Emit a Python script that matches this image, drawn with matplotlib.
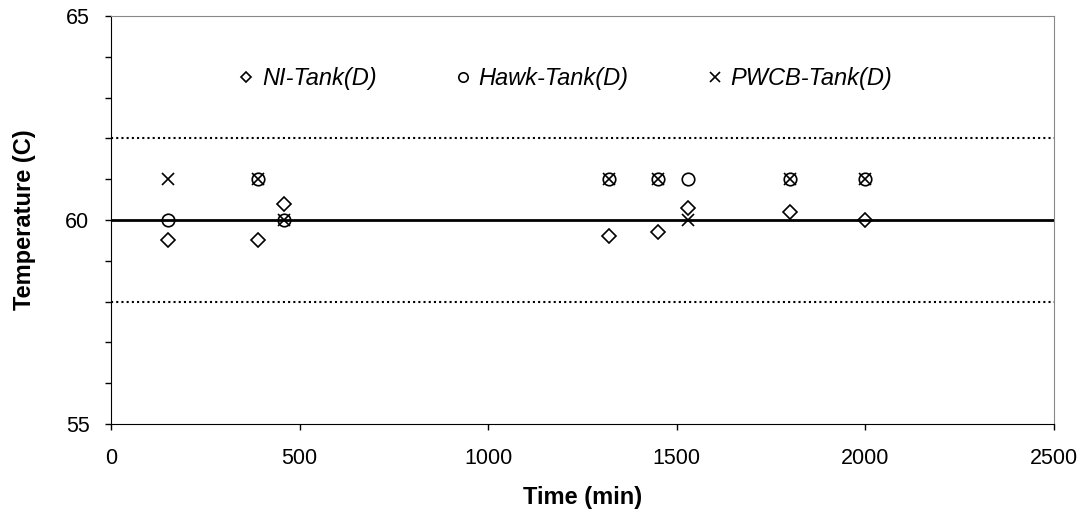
import numpy as np
import matplotlib.pyplot as plt
from matplotlib.ticker import MultipleLocator

plt.rcParams['font.family'] = ['Liberation Sans', 'DejaVu Sans']

# sampling times (min) and tank temperatures (C)
t_ni = [150, 390, 460, 1320, 1450, 1530, 1800, 2000]
ni_tank = [59.5, 59.5, 60.4, 59.6, 59.7, 60.3, 60.2, 60.0]

t_hawk = [150, 390, 460, 1320, 1450, 1530, 1800, 2000]
hawk_tank = [60.0, 61.0, 60.0, 61.0, 61.0, 61.0, 61.0, 61.0]

t_pwcb = [150, 390, 460, 1320, 1450, 1530, 1800, 2000]
pwcb_tank = [61.0, 61.0, 60.0, 61.0, 61.0, 60.0, 61.0, 61.0]

setpoint = 60
band = 2

fig = plt.figure(figsize=(10.86, 5.14), dpi=100)
ax = fig.add_axes([0.1022, 0.175, 0.8683, 0.794])

ax.axhline(setpoint, color='black', lw=2, zorder=1)
ax.axhline(setpoint + band, color='black', lw=1.5, ls=(0, (1, 1.5)), zorder=1)
ax.axhline(setpoint - band, color='black', lw=1.5, ls=(0, (1, 1.5)), zorder=1)

ax.plot(t_ni, ni_tank, ls='none', marker='D', ms=7, mfc='none', mec='black',
        mew=1.2, label='NI-Tank(D)')
ax.plot(t_hawk, hawk_tank, ls='none', marker='o', ms=9, mfc='none', mec='black',
        mew=1.2, label='Hawk-Tank(D)')
ax.plot(t_pwcb, pwcb_tank, ls='none', marker='x', ms=9, mec='black',
        mew=1.2, label='PWCB-Tank(D)')

ax.set_xlim(0, 2500)
ax.set_ylim(55, 65)
ax.xaxis.set_major_locator(MultipleLocator(500))
ax.yaxis.set_major_locator(MultipleLocator(5))
ax.yaxis.set_minor_locator(MultipleLocator(1))
ax.tick_params(axis='both', which='both', direction='out', length=4.5, width=1,
               labelsize=15.5, top=False, right=False)
ax.tick_params(axis='x', pad=13)
ax.tick_params(axis='y', pad=11)

for side in ['top', 'right']:
    ax.spines[side].set_color('#888888')
for side in ['left', 'bottom']:
    ax.spines[side].set_color('black')

ax.set_xlabel('Time (min)', fontsize=17, fontweight='bold', labelpad=12)
ax.set_ylabel('Temperature (C)', fontsize=17, fontweight='bold', labelpad=21)

leg = ax.legend(loc='center left', bbox_to_anchor=(0.137, 0.846), ncol=3,
                frameon=False, handlelength=0.5, handletextpad=0.42,
                columnspacing=3.4, markerscale=0.75, borderaxespad=0,
                borderpad=0, prop={'style': 'italic', 'size': 17})

fig.savefig('out.png', dpi=100)
